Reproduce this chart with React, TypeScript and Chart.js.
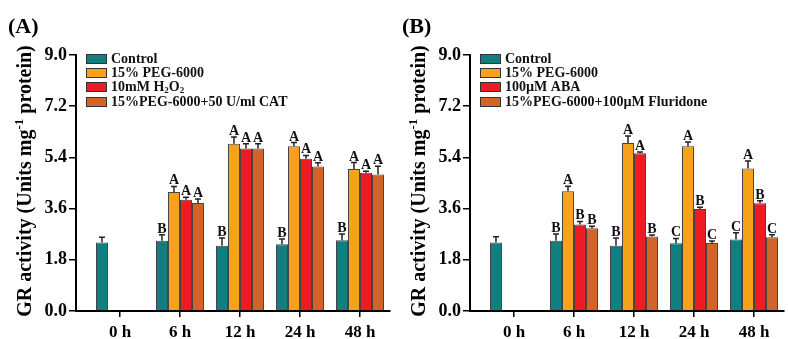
import React, { useEffect, useRef } from 'react';
import { Chart, registerables } from 'chart.js';

Chart.register(...registerables);

const FONT = '"Liberation Serif", "Times New Roman", serif';

const categories = ['0 h', '6 h', '12 h', '24 h', '48 h'];
const yTickValues = [0, 1.8, 3.6, 5.4, 7.2, 9.0];
const seriesColors = ['#0F7F7F', '#F8A11B', '#ED1C24', '#D2642A'];

// Panel A
const aControl = [2.41, 2.47, 2.29, 2.35, 2.49];
const aControlErr = [0.18, 0.21, 0.28, 0.18, 0.22];
const aControlLet = ['', 'B', 'B', 'B', 'B'];
const aPeg = [null, 4.18, 5.88, 5.79, 4.99];
const aPegErr = [null, 0.2, 0.24, 0.13, 0.23];
const aPegLet = ['', 'A', 'A', 'A', 'A'];
const aH2o2 = [null, 3.91, 5.71, 5.35, 4.86];
const aH2o2Err = [null, 0.09, 0.17, 0.12, 0.05];
const aH2o2Let = ['', 'A', 'A', 'A', 'A'];
const aCat = [null, 3.8, 5.71, 5.08, 4.8];
const aCatErr = [null, 0.14, 0.17, 0.13, 0.29];
const aCatLet = ['', 'A', 'A', 'A', 'A'];

// Panel B
const bControl = [2.41, 2.47, 2.29, 2.38, 2.51];
const bControlErr = [0.2, 0.24, 0.28, 0.17, 0.24];
const bControlLet = ['', 'B', 'B', 'C', 'C'];
const bPeg = [null, 4.21, 5.91, 5.79, 5.01];
const bPegErr = [null, 0.18, 0.24, 0.15, 0.26];
const bPegLet = ['', 'A', 'A', 'A', 'A'];
const bAba = [null, 3.04, 5.55, 3.59, 3.79];
const bAbaErr = [null, 0.11, 0.04, 0.06, 0.09];
const bAbaLet = ['', 'B', 'A', 'B', 'B'];
const bFlu = [null, 2.91, 2.62, 2.39, 2.59];
const bFluErr = [null, 0.07, 0.05, 0.07, 0.09];
const bFluLet = ['', 'B', 'B', 'C', 'C'];

type Seg = { t: string; sub?: boolean; sup?: boolean };

const legendA: Seg[][] = [
  [{ t: 'Control' }],
  [{ t: '15% PEG-6000' }],
  [{ t: '10mM H' }, { t: '2', sub: true }, { t: 'O' }, { t: '2', sub: true }],
  [{ t: '15%PEG-6000+50 U/ml CAT' }],
];
const legendB: Seg[][] = [
  [{ t: 'Control' }],
  [{ t: '15% PEG-6000' }],
  [{ t: '100\u00B5M ABA' }],
  [{ t: '15%PEG-6000+100\u00B5M Fluridone' }],
];
const yTitle: Seg[] = [{ t: 'GR activity (Units mg' }, { t: '-1', sup: true }, { t: ' protein)' }];

function drawSegs(ctx: CanvasRenderingContext2D, segs: Seg[], x: number, y: number, size: number) {
  let cx = x;
  for (const s of segs) {
    const fs = s.sub || s.sup ? Math.round(size * 0.65) : size;
    ctx.font = `bold ${fs}px ${FONT}`;
    const dy = s.sub ? size * 0.28 : s.sup ? -size * 0.3 : 0;
    ctx.fillText(s.t, cx, y + dy);
    cx += ctx.measureText(s.t).width;
  }
  return cx - x;
}
function measureSegs(ctx: CanvasRenderingContext2D, segs: Seg[], size: number) {
  let w = 0;
  for (const s of segs) {
    const fs = s.sub || s.sup ? Math.round(size * 0.65) : size;
    ctx.font = `bold ${fs}px ${FONT}`;
    w += ctx.measureText(s.t).width;
  }
  return w;
}

function toPoints(vals: (number | null)[], errs: (number | null)[], lets: string[]) {
  const pts: any[] = [];
  vals.forEach((v, i) => {
    if (v !== null) pts.push({ x: i, y: v, e: errs[i], l: lets[i] });
  });
  return pts;
}

function makeConfig(panel: string, legend: Seg[][], series: any[][]) {
  const plugin = {
    id: 'decor' + panel,
    afterDatasetsDraw(chart: any) {
      const ctx = chart.ctx as CanvasRenderingContext2D;
      const ys = chart.scales.y;
      ctx.save();
      chart.data.datasets.forEach((ds: any, di: number) => {
        const meta = chart.getDatasetMeta(di);
        meta.data.forEach((el: any, i: number) => {
          const p = ds.data[i];
          if (!p) return;
          const top = ys.getPixelForValue(p.y + (p.e || 0));
          ctx.strokeStyle = '#222';
          ctx.lineWidth = 1.5;
          ctx.beginPath();
          ctx.moveTo(el.x, el.y);
          ctx.lineTo(el.x, top);
          ctx.moveTo(el.x - 3, top);
          ctx.lineTo(el.x + 3, top);
          ctx.stroke();
          if (p.l) {
            ctx.fillStyle = '#111';
            ctx.font = `bold 14px ${FONT}`;
            ctx.textAlign = 'center';
            ctx.textBaseline = 'alphabetic';
            ctx.fillText(p.l, el.x, top - 2);
          }
        });
      });
      ctx.restore();
    },
    afterDraw(chart: any) {
      const ctx = chart.ctx as CanvasRenderingContext2D;
      ctx.save();
      const rows = [59, 73, 87, 102];
      legend.forEach((segs, i) => {
        const cy = rows[i];
        ctx.fillStyle = seriesColors[i];
        ctx.fillRect(86, cy - 5, 21, 10);
        ctx.strokeStyle = '#333';
        ctx.lineWidth = 1;
        ctx.strokeRect(86.5, cy - 4.5, 20, 9);
        ctx.fillStyle = '#111';
        ctx.textAlign = 'left';
        ctx.textBaseline = 'middle';
        drawSegs(ctx, segs, 111, cy, 14);
      });
      ctx.fillStyle = '#000';
      ctx.font = `bold 22px ${FONT}`;
      ctx.textAlign = 'left';
      ctx.textBaseline = 'middle';
      ctx.fillText(`(${panel})`, 8, 27);
      ctx.translate(26, 181);
      ctx.rotate(-Math.PI / 2);
      const w = measureSegs(ctx, yTitle, 20);
      ctx.textAlign = 'left';
      ctx.textBaseline = 'middle';
      drawSegs(ctx, yTitle, -w / 2, 0, 20);
      ctx.restore();
    },
  };

  return {
    type: 'bar',
    data: {
      datasets: series.map((pts, i) => ({
        label: 'S' + i,
        data: pts,
        backgroundColor: seriesColors[i],
        borderColor: '#444',
        borderWidth: 1,
        categoryPercentage: 0.8,
        barPercentage: 1.0,
      })),
    },
    options: {
      animation: false,
      responsive: false,
      layout: { padding: { left: 0, right: 4, top: 55, bottom: 0 } },
      plugins: { legend: { display: false }, tooltip: { enabled: false } },
      scales: {
        x: {
          type: 'linear',
          offset: false,
          min: -0.733,
          max: 4.5,
          afterBuildTicks: (s: any) => {
            s.ticks = categories.map((_, i) => ({ value: i }));
          },
          afterFit: (s: any) => {
            s.height = 28;
          },
          ticks: {
            callback: (v: any) => categories[v] ?? '',
            color: '#000',
            font: { family: FONT, size: 17, weight: 'bold' },
            padding: 5,
            maxRotation: 0,
            autoSkip: false,
          },
          grid: { display: true, offset: false, drawOnChartArea: false, drawTicks: true, tickLength: 6, color: '#000', lineWidth: 1.5 },
          border: { display: true, color: '#000', width: 2 },
        },
        y: {
          min: 0,
          max: 9,
          afterBuildTicks: (s: any) => {
            s.ticks = yTickValues.map((v) => ({ value: v }));
          },
          afterFit: (s: any) => {
            s.width = 76;
          },
          ticks: {
            callback: (v: any) => Number(v).toFixed(1),
            color: '#000',
            font: { family: FONT, size: 18, weight: 'bold' },
            padding: 2,
          },
          grid: { display: true, drawOnChartArea: false, drawTicks: true, tickLength: 7, color: '#000', lineWidth: 1.5 },
          border: { display: true, color: '#000', width: 2 },
        },
      },
    },
    plugins: [plugin],
  } as any;
}

function Panel({ panel, legend, series }: { panel: string; legend: Seg[][]; series: any[][] }) {
  const ref = useRef<HTMLCanvasElement | null>(null);
  useEffect(() => {
    if (!ref.current) return;
    const chart = new Chart(ref.current, makeConfig(panel, legend, series));
    return () => chart.destroy();
  }, []);
  return <canvas ref={ref} width={394} height={339} style={{ display: 'block', width: 394, height: 339 }} />;
}

export default function App() {
  const seriesA = [
    toPoints(aControl, aControlErr, aControlLet),
    toPoints(aPeg, aPegErr, aPegLet),
    toPoints(aH2o2, aH2o2Err, aH2o2Let),
    toPoints(aCat, aCatErr, aCatLet),
  ];
  const seriesB = [
    toPoints(bControl, bControlErr, bControlLet),
    toPoints(bPeg, bPegErr, bPegLet),
    toPoints(bAba, bAbaErr, bAbaLet),
    toPoints(bFlu, bFluErr, bFluLet),
  ];
  return (
    <div style={{ position: 'absolute', left: 0, top: 0, width: 788, height: 339, display: 'flex', background: '#fff' }}>
      <Panel panel="A" legend={legendA} series={seriesA} />
      <Panel panel="B" legend={legendB} series={seriesB} />
    </div>
  );
}
